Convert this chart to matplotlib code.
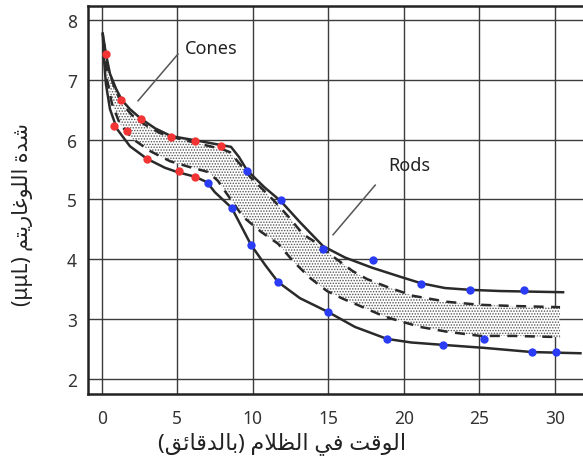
import re
import matplotlib
matplotlib.use("Agg")
import matplotlib.pyplot as plt

# ---------------- data ----------------
x_ticks = [0, 5, 10, 15, 20, 25, 30]
y_ticks = [2, 3, 4, 5, 6, 7, 8]

# upper solid boundary (cones, then rods)
upper_x = [0.07, 0.28, 0.55, 0.95, 1.34, 1.87, 2.60, 3.53, 4.59, 6.18, 7.90, 8.56,
           9.09, 9.62, 10.75, 11.87, 13.13, 14.66, 16.11, 17.90, 19.75, 21.15,
           22.73, 24.39, 26.38, 30.55]
upper_y = [7.77, 7.43, 7.10, 6.85, 6.66, 6.51, 6.35, 6.19, 6.06, 5.99, 5.91, 5.88,
           5.71, 5.49, 5.21, 4.97, 4.62, 4.22, 4.03, 3.86, 3.71, 3.60,
           3.52, 3.49, 3.47, 3.45]

# lower solid boundary
lower_x = [0.07, 0.15, 0.28, 0.55, 1.01, 1.87, 3.00, 4.19, 4.99, 6.18, 6.97, 7.50,
           8.61, 9.89, 10.81, 11.68, 13.13, 14.99, 16.77, 18.89, 20.50, 22.60, 25.32,
           28.50, 31.70]
lower_y = [7.77, 7.35, 6.93, 6.51, 6.18, 5.89, 5.68, 5.53, 5.46, 5.38, 5.29, 5.12,
           4.86, 4.24, 3.91, 3.62, 3.35, 3.12, 2.87, 2.67, 2.61, 2.57, 2.52,
           2.45, 2.43]

# upper dashed curve
udash_x = [0.15, 0.42, 0.88, 1.34, 2.01, 2.87, 3.86, 5.19, 6.50, 8.00, 8.50, 9.16,
           9.82, 10.62, 11.48, 12.34, 13.33, 14.13, 14.92, 15.78, 16.64, 17.57,
           18.89, 20.62, 22.87, 25.06, 27.24, 30.35]
udash_y = [7.60, 7.18, 6.85, 6.60, 6.41, 6.25, 6.11, 6.01, 5.93, 5.84, 5.79, 5.59,
           5.38, 5.18, 4.96, 4.72, 4.42, 4.29, 4.12, 3.96, 3.80, 3.67,
           3.54, 3.39, 3.29, 3.24, 3.22, 3.20]

# lower dashed curve
ldash_x = [0.15, 0.35, 0.68, 1.21, 2.07, 3.20, 4.52, 5.85, 7.04, 7.70, 8.16, 9.36,
           10.55, 11.68, 12.67, 13.79, 14.92, 15.98, 17.11, 18.76, 21.08, 22.87,
           25.06, 27.24, 30.35]
ldash_y = [7.60, 7.01, 6.60, 6.26, 6.01, 5.81, 5.64, 5.54, 5.46, 5.31, 5.14, 4.71,
           4.46, 4.26, 3.97, 3.69, 3.47, 3.34, 3.22, 3.04, 2.87, 2.79,
           2.72, 2.72, 2.70]

# red points (cones)
cone_x = [0.29, 1.30, 2.58, 0.83, 1.70, 4.59, 6.18, 7.93, 2.98, 5.14, 6.18]
cone_y = [7.43, 6.67, 6.35, 6.22, 6.14, 6.04, 5.98, 5.90, 5.68, 5.47, 5.37]

# blue points (rods)
rod_x = [9.60, 7.06, 11.87, 8.61, 9.89, 14.68, 17.95, 11.66, 15.01, 21.15, 24.39,
         27.97, 18.87, 22.62, 25.32, 28.48, 30.07]
rod_y = [5.48, 5.28, 4.99, 4.85, 4.24, 4.18, 3.99, 3.62, 3.12, 3.59, 3.49,
         3.48, 2.66, 2.57, 2.67, 2.45, 2.45]

# annotations: label, text position, leader line start, leader line end
ann_labels = ["Cones", "Rods"]
ann_text_xy = [(7.25, 7.53), (20.35, 5.58)]
ann_line_from = [(5.05, 7.43), (18.11, 5.24)]
ann_line_to = [(2.41, 6.65), (15.32, 4.41)]

x_label = "الوقت في الظلام (بالدقائق)"
y_label = "شدة اللوغاريتم (μμL)"

# ---------------- minimal Arabic shaping + visual ordering ----------------
AR_FORMS = {
    '\u0626': (0xFE89, 4), '\u0627': (0xFE8D, 2), '\u0628': (0xFE8F, 4),
    '\u0629': (0xFE93, 2), '\u062A': (0xFE95, 4), '\u062F': (0xFEA9, 2),
    '\u0631': (0xFEAD, 2), '\u0634': (0xFEB5, 4), '\u0638': (0xFEC5, 4),
    '\u063A': (0xFECD, 4), '\u0641': (0xFED1, 4), '\u0642': (0xFED5, 4),
    '\u0644': (0xFEDD, 4), '\u0645': (0xFEE1, 4), '\u0648': (0xFEED, 2),
    '\u064A': (0xFEF1, 4),
}


def shape(text):
    chars = list(text)
    n = len(chars)
    res = []
    i = 0
    while i < n:
        c = chars[i]
        if c not in AR_FORMS:
            res.append(c)
            i += 1
            continue
        prev = chars[i - 1] if i > 0 else None
        join_prev = prev in AR_FORMS and AR_FORMS[prev][1] == 4
        if c == '\u0644' and i + 1 < n and chars[i + 1] == '\u0627':
            res.append(chr(0xFEFC if join_prev else 0xFEFB))
            i += 2
            continue
        nxt = chars[i + 1] if i + 1 < n else None
        base, k = AR_FORMS[c]
        join_next = k == 4 and nxt in AR_FORMS
        if join_prev and join_next:
            f = base + 3
        elif join_prev:
            f = base + 1
        elif join_next:
            f = base + 2
        else:
            f = base
        res.append(chr(f))
        i += 1
    return ''.join(res)


def visual(text):
    r = shape(text)[::-1]
    r = r.translate(str.maketrans({'(': ')', ')': '('}))
    r = re.sub(r'[A-Za-z0-9\u03bc]+', lambda m: m.group(0)[::-1], r)
    return r


# ---------------- figure ----------------
FAM = ['Noto Sans', 'DejaVu Sans']
plt.rcParams['font.family'] = FAM
plt.rcParams['hatch.color'] = '#555555'
plt.rcParams['hatch.linewidth'] = 0.7

W, H = 583, 464
fig = plt.figure(figsize=(W / 100, H / 100), dpi=100)
ax = fig.add_axes([88 / W, (H - 395) / H, (W - 88) / W, 388 / H])

ax.set_xlim(-0.907, 31.87)
ax.set_ylim(1.749, 8.234)

ax.set_xticks(x_ticks)
ax.set_yticks(y_ticks)
ax.grid(True, color='#3c3c3c', lw=1.0, zorder=0.5)
ax.set_axisbelow(True)
ax.tick_params(length=0, labelsize=12.5, labelcolor='#333333')
ax.tick_params(axis='y', pad=8)
ax.tick_params(axis='x', pad=11)

for s in ['left', 'top', 'bottom']:
    ax.spines[s].set_linewidth(1.8)
    ax.spines[s].set_color('#222222')
ax.spines['right'].set_visible(False)

# stippled band
ax.fill(udash_x + ldash_x[::-1], udash_y + ldash_y[::-1], facecolor='white',
        edgecolor='#555555', hatch='......', linewidth=0, zorder=1)

ax.plot(udash_x, udash_y, color='#2a2a2a', lw=1.8, ls=(0, (4, 3)), zorder=2)
ax.plot(ldash_x, ldash_y, color='#2a2a2a', lw=1.8, ls=(0, (4, 3)), zorder=2)
ax.plot(upper_x, upper_y, color='#2a2a2a', lw=1.8, zorder=3)
ax.plot(lower_x, lower_y, color='#2a2a2a', lw=1.8, zorder=3)

ax.plot(cone_x, cone_y, 'o', color='#f23434', ms=6, mec='none', zorder=5)
ax.plot(rod_x, rod_y, 'o', color='#2a3cf5', ms=6, mec='none', zorder=5)

for lab, txy, p0, p1 in zip(ann_labels, ann_text_xy, ann_line_from, ann_line_to):
    ax.text(txy[0], txy[1], lab, fontsize=13, color='#222222', ha='center',
            va='center', zorder=6)
    ax.plot([p0[0], p1[0]], [p0[1], p1[1]], color='#555555', lw=1.1, zorder=4)

fig.text(282 / W, 1 - 444 / H, visual(x_label), fontsize=16, color='#222222',
         ha='center', va='center', family=FAM)
fig.text(22 / W, 1 - 215 / H, visual(y_label), fontsize=15, color='#222222',
         ha='center', va='center', rotation=90, family=FAM)

fig.savefig('out.png', dpi=100)
